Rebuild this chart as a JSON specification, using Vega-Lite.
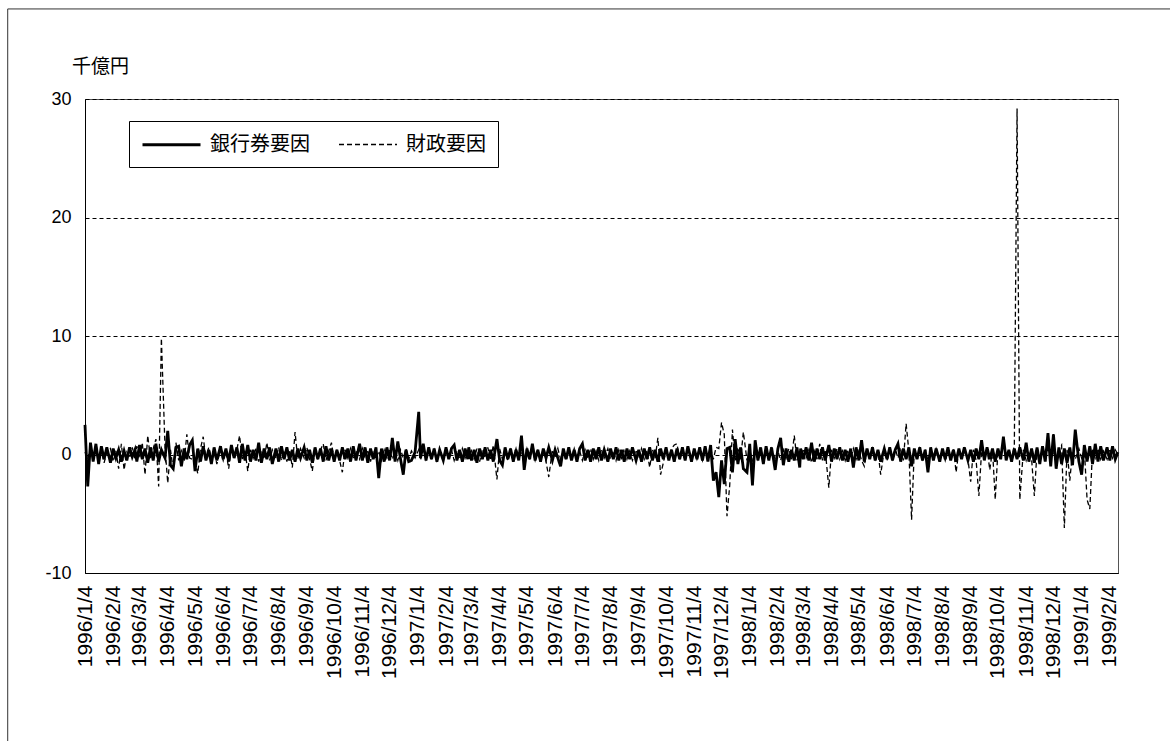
{
"width": 1033, "height": 474,
"autosize": {"type": "none"},
"padding": {"left": 85, "top": 99, "right": 52, "bottom": 168},
"background": "white",
"config": {
 "view": {"stroke": "#555", "strokeWidth": 1},
 "font": "Liberation Sans",
 "legend": {"orient": "none", "legendX": 44, "legendY": 22, "direction": "horizontal", "strokeColor": "black", "fillColor": "white", "padding": 12, "symbolType": "M-1,0H4.8", "symbolSize": 400, "symbolStrokeColor": "black", "labelFont": "Noto Sans CJK JP", "labelFontSize": 20, "labelColor": "black", "labelOffset": 46, "columnPadding": 26, "labelLimit": 0}
},
"data": {"values": [
{"d":"1996/1/4","a":2.5,"b":0.2},{"d":"1996/1/7","a":-2.7,"b":-0.4},{"d":"1996/1/10","a":1.0,"b":0.6},{"d":"1996/1/13","a":-0.6,"b":-0.3},{"d":"1996/1/16","a":0.9,"b":0.4},{"d":"1996/1/19","a":-0.8,"b":-0.5},{"d":"1996/1/22","a":0.7,"b":0.3},{"d":"1996/1/25","a":-0.4,"b":-0.7},{"d":"1996/1/28","a":0.6,"b":0.2},
{"d":"1996/2/1","a":-0.7,"b":0.5},{"d":"1996/2/4","a":0.5,"b":-0.6},{"d":"1996/2/7","a":-0.3,"b":0.3},{"d":"1996/2/10","a":0.4,"b":-1.2},{"d":"1996/2/13","a":-0.6,"b":0.9},{"d":"1996/2/16","a":0.3,"b":-1.3},{"d":"1996/2/19","a":-0.5,"b":0.2},{"d":"1996/2/22","a":0.6,"b":-0.3},{"d":"1996/2/25","a":-0.2,"b":0.6},{"d":"1996/2/28","a":0.4,"b":-0.4},
{"d":"1996/3/1","a":-0.6,"b":0.7},{"d":"1996/3/4","a":0.8,"b":-0.3},{"d":"1996/3/7","a":-0.4,"b":1.0},{"d":"1996/3/10","a":0.5,"b":-1.7},{"d":"1996/3/13","a":-0.7,"b":1.6},{"d":"1996/3/16","a":0.6,"b":-0.4},{"d":"1996/3/19","a":-0.5,"b":0.5},{"d":"1996/3/22","a":0.9,"b":1.3},{"d":"1996/3/25","a":-0.6,"b":-2.7},{"d":"1996/3/28","a":0.4,"b":9.8},
{"d":"1996/4/1","a":-0.3,"b":0.6},{"d":"1996/4/4","a":2.0,"b":-2.4},{"d":"1996/4/7","a":-0.9,"b":0.4},{"d":"1996/4/10","a":-1.2,"b":-1.3},{"d":"1996/4/13","a":0.6,"b":1.0},{"d":"1996/4/16","a":0.7,"b":-0.5},{"d":"1996/4/19","a":-1.0,"b":0.3},{"d":"1996/4/22","a":0.5,"b":-0.6},{"d":"1996/4/25","a":-0.4,"b":1.7},{"d":"1996/4/28","a":0.8,"b":-0.3},
{"d":"1996/5/1","a":1.2,"b":-0.4},{"d":"1996/5/4","a":-1.4,"b":-0.6},{"d":"1996/5/7","a":0.5,"b":-1.6},{"d":"1996/5/10","a":-0.6,"b":0.5},{"d":"1996/5/13","a":0.7,"b":1.5},{"d":"1996/5/16","a":-0.5,"b":-0.4},{"d":"1996/5/19","a":0.4,"b":0.6},{"d":"1996/5/22","a":-0.8,"b":-0.3},{"d":"1996/5/25","a":0.6,"b":0.2},{"d":"1996/5/28","a":-0.5,"b":-0.8},
{"d":"1996/6/1","a":0.7,"b":0.4},{"d":"1996/6/4","a":-0.4,"b":-0.5},{"d":"1996/6/7","a":0.5,"b":0.3},{"d":"1996/6/10","a":-0.6,"b":-1.2},{"d":"1996/6/13","a":0.8,"b":0.5},{"d":"1996/6/16","a":-0.3,"b":-0.3},{"d":"1996/6/19","a":0.6,"b":0.4},{"d":"1996/6/22","a":-0.7,"b":1.6},{"d":"1996/6/25","a":0.9,"b":-0.5},{"d":"1996/6/28","a":-0.5,"b":0.3},
{"d":"1996/7/1","a":0.8,"b":-1.4},{"d":"1996/7/4","a":-0.6,"b":0.4},{"d":"1996/7/7","a":0.4,"b":-0.3},{"d":"1996/7/10","a":-0.5,"b":0.5},{"d":"1996/7/13","a":1.0,"b":-0.6},{"d":"1996/7/16","a":-0.7,"b":0.3},{"d":"1996/7/19","a":0.5,"b":-0.4},{"d":"1996/7/22","a":-0.4,"b":1.0},{"d":"1996/7/25","a":0.6,"b":-0.5},{"d":"1996/7/28","a":-0.8,"b":0.4},
{"d":"1996/8/1","a":0.5,"b":-0.3},{"d":"1996/8/4","a":-0.6,"b":0.6},{"d":"1996/8/7","a":0.7,"b":-0.5},{"d":"1996/8/10","a":-0.4,"b":0.3},{"d":"1996/8/13","a":0.6,"b":-0.6},{"d":"1996/8/16","a":-0.5,"b":0.4},{"d":"1996/8/19","a":0.4,"b":-1.1},{"d":"1996/8/22","a":-0.6,"b":1.9},{"d":"1996/8/25","a":0.5,"b":-0.4},{"d":"1996/8/28","a":-0.3,"b":0.5},
{"d":"1996/9/1","a":0.6,"b":-0.3},{"d":"1996/9/4","a":-0.5,"b":0.6},{"d":"1996/9/7","a":0.4,"b":-0.4},{"d":"1996/9/10","a":-0.7,"b":-1.4},{"d":"1996/9/13","a":0.6,"b":0.5},{"d":"1996/9/16","a":-0.4,"b":-0.3},{"d":"1996/9/19","a":0.5,"b":0.4},{"d":"1996/9/22","a":-0.6,"b":0.9},{"d":"1996/9/25","a":0.7,"b":-0.5},{"d":"1996/9/28","a":-0.5,"b":0.3},
{"d":"1996/10/1","a":0.5,"b":1.0},{"d":"1996/10/4","a":-0.6,"b":-0.4},{"d":"1996/10/7","a":0.4,"b":0.3},{"d":"1996/10/10","a":-0.5,"b":-0.5},{"d":"1996/10/13","a":0.6,"b":-1.5},{"d":"1996/10/16","a":-0.4,"b":0.4},{"d":"1996/10/19","a":0.5,"b":-0.3},{"d":"1996/10/22","a":-0.6,"b":0.5},{"d":"1996/10/25","a":0.7,"b":-0.4},{"d":"1996/10/28","a":-0.5,"b":0.3},
{"d":"1996/11/1","a":0.9,"b":-0.4},{"d":"1996/11/4","a":-0.5,"b":0.5},{"d":"1996/11/7","a":0.6,"b":-0.3},{"d":"1996/11/10","a":-0.7,"b":0.4},{"d":"1996/11/13","a":0.5,"b":-0.6},{"d":"1996/11/16","a":-0.4,"b":0.3},{"d":"1996/11/19","a":0.6,"b":-0.4},{"d":"1996/11/22","a":-2.0,"b":0.3},{"d":"1996/11/25","a":0.5,"b":-0.5},{"d":"1996/11/28","a":-0.6,"b":0.4},
{"d":"1996/12/1","a":0.6,"b":-0.3},{"d":"1996/12/4","a":-0.5,"b":0.4},{"d":"1996/12/7","a":1.4,"b":-0.4},{"d":"1996/12/10","a":-0.6,"b":0.3},{"d":"1996/12/13","a":1.1,"b":-0.5},{"d":"1996/12/16","a":-0.4,"b":0.4},{"d":"1996/12/19","a":-1.7,"b":-0.3},{"d":"1996/12/22","a":0.4,"b":0.5},{"d":"1996/12/25","a":-0.6,"b":-0.4},{"d":"1996/12/28","a":-0.5,"b":0.3},
{"d":"1997/1/1","a":0.2,"b":-0.3},{"d":"1997/1/5","a":3.6,"b":0.4},{"d":"1997/1/7","a":-0.3,"b":-0.5},{"d":"1997/1/10","a":0.9,"b":0.6},{"d":"1997/1/13","a":-0.5,"b":-0.4},{"d":"1997/1/16","a":0.6,"b":0.3},{"d":"1997/1/19","a":-0.4,"b":-0.3},{"d":"1997/1/22","a":0.5,"b":0.4},{"d":"1997/1/25","a":-0.6,"b":-0.5},{"d":"1997/1/28","a":0.4,"b":0.3},
{"d":"1997/2/1","a":-0.5,"b":-0.4},{"d":"1997/2/4","a":0.6,"b":0.3},{"d":"1997/2/7","a":-0.4,"b":-0.3},{"d":"1997/2/10","a":0.5,"b":0.4},{"d":"1997/2/13","a":0.8,"b":-0.5},{"d":"1997/2/16","a":-0.5,"b":0.3},{"d":"1997/2/19","a":0.4,"b":-0.4},{"d":"1997/2/22","a":-0.6,"b":0.5},{"d":"1997/2/25","a":0.5,"b":-0.3},{"d":"1997/2/28","a":-0.4,"b":0.4},
{"d":"1997/3/1","a":0.6,"b":-0.5},{"d":"1997/3/4","a":-0.5,"b":0.3},{"d":"1997/3/7","a":0.4,"b":-0.4},{"d":"1997/3/10","a":-0.7,"b":0.5},{"d":"1997/3/13","a":0.5,"b":-0.6},{"d":"1997/3/16","a":-0.4,"b":0.4},{"d":"1997/3/19","a":0.6,"b":-0.3},{"d":"1997/3/22","a":-0.5,"b":0.6},{"d":"1997/3/25","a":0.4,"b":-0.5},{"d":"1997/3/28","a":-0.6,"b":0.8},
{"d":"1997/4/1","a":1.3,"b":-2.1},{"d":"1997/4/4","a":-0.5,"b":0.5},{"d":"1997/4/7","a":-0.9,"b":-0.4},{"d":"1997/4/10","a":0.6,"b":0.3},{"d":"1997/4/13","a":-0.4,"b":-0.5},{"d":"1997/4/16","a":0.5,"b":0.4},{"d":"1997/4/19","a":-0.6,"b":-0.3},{"d":"1997/4/22","a":0.4,"b":0.5},{"d":"1997/4/25","a":-0.5,"b":-0.4},{"d":"1997/4/28","a":1.6,"b":0.3},
{"d":"1997/5/1","a":-1.3,"b":-0.4},{"d":"1997/5/4","a":0.5,"b":0.5},{"d":"1997/5/7","a":-0.4,"b":-0.3},{"d":"1997/5/10","a":0.9,"b":0.4},{"d":"1997/5/13","a":-0.5,"b":-0.5},{"d":"1997/5/16","a":0.4,"b":0.3},{"d":"1997/5/19","a":-0.6,"b":-0.4},{"d":"1997/5/22","a":0.5,"b":0.5},{"d":"1997/5/25","a":-0.3,"b":-0.6},{"d":"1997/5/28","a":0.6,"b":-1.9},
{"d":"1997/6/1","a":-0.5,"b":0.4},{"d":"1997/6/4","a":0.4,"b":-0.3},{"d":"1997/6/7","a":-0.3,"b":0.5},{"d":"1997/6/10","a":-1.0,"b":-0.4},{"d":"1997/6/13","a":0.5,"b":0.3},{"d":"1997/6/16","a":-0.4,"b":-0.5},{"d":"1997/6/19","a":0.6,"b":0.4},{"d":"1997/6/22","a":-0.5,"b":-0.3},{"d":"1997/6/25","a":0.4,"b":0.5},{"d":"1997/6/28","a":-0.6,"b":-0.4},
{"d":"1997/7/1","a":0.5,"b":0.3},{"d":"1997/7/4","a":0.9,"b":-0.5},{"d":"1997/7/7","a":-0.5,"b":0.4},{"d":"1997/7/10","a":0.4,"b":-0.3},{"d":"1997/7/13","a":-0.6,"b":0.5},{"d":"1997/7/16","a":0.5,"b":-0.4},{"d":"1997/7/19","a":-0.4,"b":0.3},{"d":"1997/7/22","a":0.6,"b":-0.5},{"d":"1997/7/25","a":-0.5,"b":0.4},{"d":"1997/7/28","a":0.4,"b":-0.3},
{"d":"1997/8/1","a":-0.6,"b":0.5},{"d":"1997/8/4","a":0.5,"b":-0.4},{"d":"1997/8/7","a":-0.4,"b":0.3},{"d":"1997/8/10","a":0.6,"b":-0.5},{"d":"1997/8/13","a":-0.5,"b":0.4},{"d":"1997/8/16","a":0.4,"b":-0.3},{"d":"1997/8/19","a":-0.6,"b":0.5},{"d":"1997/8/22","a":0.5,"b":-0.4},{"d":"1997/8/25","a":-0.4,"b":0.3},{"d":"1997/8/28","a":0.6,"b":-0.5},
{"d":"1997/9/1","a":-0.5,"b":0.4},{"d":"1997/9/4","a":0.4,"b":-0.3},{"d":"1997/9/7","a":-0.6,"b":0.5},{"d":"1997/9/10","a":0.5,"b":-0.4},{"d":"1997/9/13","a":-0.4,"b":0.3},{"d":"1997/9/16","a":0.6,"b":-1.1},{"d":"1997/9/19","a":-0.5,"b":0.4},{"d":"1997/9/22","a":0.4,"b":-0.3},{"d":"1997/9/25","a":-0.6,"b":1.4},{"d":"1997/9/28","a":0.5,"b":-1.7},
{"d":"1997/10/1","a":-0.4,"b":-0.7},{"d":"1997/10/4","a":0.6,"b":0.4},{"d":"1997/10/7","a":-0.5,"b":-0.3},{"d":"1997/10/10","a":0.4,"b":0.5},{"d":"1997/10/13","a":-0.6,"b":0.8},{"d":"1997/10/16","a":0.5,"b":0.9},{"d":"1997/10/19","a":-0.4,"b":-0.4},{"d":"1997/10/22","a":0.6,"b":0.3},{"d":"1997/10/25","a":-0.5,"b":-0.5},{"d":"1997/10/28","a":0.7,"b":0.4},
{"d":"1997/11/1","a":-0.6,"b":-0.3},{"d":"1997/11/4","a":0.5,"b":0.5},{"d":"1997/11/7","a":-0.4,"b":-0.4},{"d":"1997/11/10","a":0.6,"b":0.3},{"d":"1997/11/13","a":-0.5,"b":-0.5},{"d":"1997/11/16","a":0.7,"b":0.4},{"d":"1997/11/19","a":-0.6,"b":-0.3},{"d":"1997/11/22","a":0.8,"b":0.5},{"d":"1997/11/25","a":-2.2,"b":-0.4},{"d":"1997/11/28","a":-1.5,"b":0.6},
{"d":"1997/12/1","a":-3.6,"b":0.5},{"d":"1997/12/4","a":-0.5,"b":2.7},{"d":"1997/12/7","a":-2.5,"b":1.7},{"d":"1997/12/10","a":0.5,"b":-5.2},{"d":"1997/12/13","a":0.6,"b":-2.6},{"d":"1997/12/16","a":-1.5,"b":2.1},{"d":"1997/12/19","a":1.3,"b":-0.5},{"d":"1997/12/22","a":-0.8,"b":0.6},{"d":"1997/12/25","a":0.6,"b":-0.4},{"d":"1997/12/28","a":-1.2,"b":1.9},
{"d":"1998/1/1","a":-1.5,"b":-0.5},{"d":"1998/1/4","a":0.9,"b":0.4},{"d":"1998/1/7","a":-2.6,"b":-0.6},{"d":"1998/1/10","a":1.2,"b":0.5},{"d":"1998/1/13","a":-0.5,"b":-0.4},{"d":"1998/1/16","a":0.6,"b":0.3},{"d":"1998/1/19","a":-0.8,"b":-0.5},{"d":"1998/1/22","a":0.7,"b":0.4},{"d":"1998/1/25","a":-0.5,"b":-0.3},{"d":"1998/1/28","a":0.6,"b":0.5},
{"d":"1998/2/1","a":-1.3,"b":-0.4},{"d":"1998/2/4","a":0.5,"b":0.3},{"d":"1998/2/7","a":1.4,"b":-0.5},{"d":"1998/2/10","a":-0.9,"b":0.4},{"d":"1998/2/13","a":0.5,"b":-0.3},{"d":"1998/2/16","a":-0.6,"b":0.5},{"d":"1998/2/19","a":0.4,"b":-0.4},{"d":"1998/2/22","a":-0.5,"b":1.6},{"d":"1998/2/25","a":0.6,"b":-0.5},{"d":"1998/2/28","a":-1.1,"b":0.3},
{"d":"1998/3/1","a":0.5,"b":-0.4},{"d":"1998/3/4","a":-0.4,"b":0.5},{"d":"1998/3/7","a":0.6,"b":-0.3},{"d":"1998/3/10","a":-0.5,"b":0.4},{"d":"1998/3/13","a":1.0,"b":-0.7},{"d":"1998/3/16","a":-0.6,"b":0.3},{"d":"1998/3/19","a":0.5,"b":-0.4},{"d":"1998/3/22","a":-0.4,"b":0.9},{"d":"1998/3/25","a":0.6,"b":-0.5},{"d":"1998/3/28","a":-0.5,"b":0.4},
{"d":"1998/4/1","a":0.8,"b":-2.8},{"d":"1998/4/4","a":-0.6,"b":0.4},{"d":"1998/4/7","a":0.5,"b":-0.3},{"d":"1998/4/10","a":-0.4,"b":0.5},{"d":"1998/4/13","a":0.6,"b":-0.4},{"d":"1998/4/16","a":-0.5,"b":0.3},{"d":"1998/4/19","a":0.4,"b":-0.5},{"d":"1998/4/22","a":-0.6,"b":0.4},{"d":"1998/4/25","a":0.5,"b":-0.3},{"d":"1998/4/28","a":-1.1,"b":0.5},
{"d":"1998/5/1","a":0.6,"b":-0.4},{"d":"1998/5/4","a":-0.5,"b":0.3},{"d":"1998/5/7","a":1.2,"b":-0.5},{"d":"1998/5/10","a":-0.6,"b":-1.0},{"d":"1998/5/13","a":0.5,"b":0.4},{"d":"1998/5/16","a":-0.4,"b":-0.3},{"d":"1998/5/19","a":0.6,"b":0.5},{"d":"1998/5/22","a":-0.5,"b":-0.4},{"d":"1998/5/25","a":0.4,"b":0.3},{"d":"1998/5/28","a":-0.6,"b":-1.7},
{"d":"1998/6/1","a":0.5,"b":0.4},{"d":"1998/6/4","a":-0.4,"b":-0.5},{"d":"1998/6/7","a":0.6,"b":0.3},{"d":"1998/6/10","a":-0.5,"b":-0.4},{"d":"1998/6/13","a":0.4,"b":0.5},{"d":"1998/6/16","a":0.9,"b":-0.3},{"d":"1998/6/19","a":-0.6,"b":0.4},{"d":"1998/6/22","a":0.5,"b":-0.5},{"d":"1998/6/25","a":-0.4,"b":2.6},{"d":"1998/6/28","a":0.6,"b":0.3},
{"d":"1998/7/1","a":-1.0,"b":-5.5},{"d":"1998/7/4","a":0.5,"b":0.4},{"d":"1998/7/7","a":-0.4,"b":-0.3},{"d":"1998/7/10","a":0.6,"b":0.5},{"d":"1998/7/13","a":-0.5,"b":-0.4},{"d":"1998/7/16","a":0.4,"b":0.3},{"d":"1998/7/19","a":-1.5,"b":-0.5},{"d":"1998/7/22","a":0.6,"b":0.4},{"d":"1998/7/25","a":-0.5,"b":-0.3},{"d":"1998/7/28","a":0.5,"b":0.5},
{"d":"1998/8/1","a":-0.6,"b":-0.4},{"d":"1998/8/4","a":0.5,"b":0.3},{"d":"1998/8/7","a":-0.4,"b":-0.5},{"d":"1998/8/10","a":0.6,"b":0.4},{"d":"1998/8/13","a":-0.5,"b":-0.3},{"d":"1998/8/16","a":0.4,"b":0.5},{"d":"1998/8/19","a":-0.6,"b":-1.5},{"d":"1998/8/22","a":0.5,"b":0.4},{"d":"1998/8/25","a":-0.4,"b":-0.3},{"d":"1998/8/28","a":0.6,"b":0.5},
{"d":"1998/9/1","a":-0.5,"b":-0.4},{"d":"1998/9/4","a":0.4,"b":-2.3},{"d":"1998/9/7","a":-0.6,"b":0.4},{"d":"1998/9/10","a":0.5,"b":-0.5},{"d":"1998/9/13","a":-0.4,"b":-3.5},{"d":"1998/9/16","a":1.2,"b":0.3},{"d":"1998/9/19","a":-0.5,"b":-0.4},{"d":"1998/9/22","a":0.6,"b":0.5},{"d":"1998/9/25","a":-0.4,"b":-1.3},{"d":"1998/9/28","a":0.5,"b":0.4},
{"d":"1998/10/1","a":-0.6,"b":-3.8},{"d":"1998/10/4","a":0.5,"b":0.4},{"d":"1998/10/7","a":-0.4,"b":-0.3},{"d":"1998/10/10","a":1.5,"b":1.2},{"d":"1998/10/13","a":-0.5,"b":-0.4},{"d":"1998/10/16","a":0.4,"b":0.3},{"d":"1998/10/19","a":-0.6,"b":-0.5},{"d":"1998/10/22","a":0.5,"b":0.8},{"d":"1998/10/25","a":-0.4,"b":29.2},{"d":"1998/10/28","a":0.6,"b":-3.8},
{"d":"1998/11/1","a":-0.5,"b":0.4},{"d":"1998/11/4","a":1.0,"b":-0.5},{"d":"1998/11/7","a":-0.6,"b":0.3},{"d":"1998/11/10","a":0.5,"b":-0.4},{"d":"1998/11/13","a":-0.7,"b":-3.5},{"d":"1998/11/16","a":0.6,"b":0.4},{"d":"1998/11/19","a":-0.8,"b":-0.5},{"d":"1998/11/22","a":0.7,"b":0.3},{"d":"1998/11/25","a":-0.6,"b":-0.4},{"d":"1998/11/28","a":1.8,"b":0.5},
{"d":"1998/12/1","a":-1.0,"b":-0.4},{"d":"1998/12/4","a":1.7,"b":0.3},{"d":"1998/12/7","a":-1.2,"b":-0.5},{"d":"1998/12/10","a":0.6,"b":0.4},{"d":"1998/12/13","a":-0.8,"b":0.8},{"d":"1998/12/16","a":0.5,"b":-6.2},{"d":"1998/12/19","a":-0.7,"b":0.4},{"d":"1998/12/22","a":0.6,"b":-2.2},{"d":"1998/12/25","a":-0.9,"b":0.3},{"d":"1998/12/28","a":2.1,"b":-0.4},
{"d":"1999/1/1","a":-0.6,"b":0.5},{"d":"1999/1/4","a":-1.7,"b":-0.3},{"d":"1999/1/7","a":0.8,"b":0.4},{"d":"1999/1/10","a":-0.6,"b":-3.8},{"d":"1999/1/13","a":0.7,"b":-4.6},{"d":"1999/1/16","a":-0.8,"b":0.4},{"d":"1999/1/19","a":0.9,"b":-0.3},{"d":"1999/1/22","a":-0.6,"b":0.5},{"d":"1999/1/25","a":0.7,"b":-0.4},{"d":"1999/1/28","a":-0.5,"b":0.3},
{"d":"1999/2/1","a":0.6,"b":-0.4},{"d":"1999/2/4","a":-0.5,"b":0.5},{"d":"1999/2/7","a":0.7,"b":-0.3},{"d":"1999/2/10","a":-0.4,"b":0.4},{"d":"1999/2/13","a":0.2,"b":0.0}
]},
"layer": [
 {
  "transform": [{"fold": ["a", "b"], "as": ["s", "v"]}],
  "mark": {"type": "line", "color": "black"},
  "encoding": {
   "x": {"field": "d", "type": "temporal",
    "scale": {"domain": [{"year": 1996, "month": 1, "date": 4}, {"year": 1999, "month": 2, "date": 13}]},
    "axis": {"title": null, "format": "%Y/%-m/%-d", "labelAngle": 270, "labelFontSize": 21, "labelColor": "black", "labelPadding": 12, "ticks": false, "grid": false, "domainColor": "black", "labelOverlap": false, "labelFlush": false, "tickCount": 200,
     "values": [{"year":1996,"month":1,"date":4},{"year":1996,"month":2,"date":4},{"year":1996,"month":3,"date":4},{"year":1996,"month":4,"date":4},{"year":1996,"month":5,"date":4},{"year":1996,"month":6,"date":4},{"year":1996,"month":7,"date":4},{"year":1996,"month":8,"date":4},{"year":1996,"month":9,"date":4},{"year":1996,"month":10,"date":4},{"year":1996,"month":11,"date":4},{"year":1996,"month":12,"date":4},{"year":1997,"month":1,"date":4},{"year":1997,"month":2,"date":4},{"year":1997,"month":3,"date":4},{"year":1997,"month":4,"date":4},{"year":1997,"month":5,"date":4},{"year":1997,"month":6,"date":4},{"year":1997,"month":7,"date":4},{"year":1997,"month":8,"date":4},{"year":1997,"month":9,"date":4},{"year":1997,"month":10,"date":4},{"year":1997,"month":11,"date":4},{"year":1997,"month":12,"date":4},{"year":1998,"month":1,"date":4},{"year":1998,"month":2,"date":4},{"year":1998,"month":3,"date":4},{"year":1998,"month":4,"date":4},{"year":1998,"month":5,"date":4},{"year":1998,"month":6,"date":4},{"year":1998,"month":7,"date":4},{"year":1998,"month":8,"date":4},{"year":1998,"month":9,"date":4},{"year":1998,"month":10,"date":4},{"year":1998,"month":11,"date":4},{"year":1998,"month":12,"date":4},{"year":1999,"month":1,"date":4},{"year":1999,"month":2,"date":4}]}},
   "y": {"field": "v", "type": "quantitative",
    "scale": {"domain": [-10, 30], "nice": false},
    "axis": {"values": [-10, 0, 10, 20, 30], "grid": true, "gridColor": "black", "gridDash": [4, 3], "gridWidth": 1, "domainColor": "black", "ticks": false, "labelFontSize": 18, "labelColor": "black", "labelPadding": 14,
     "labelExpr": "datum.value < 0 ? '-' + abs(datum.value) : '' + datum.value",
     "title": "千億円", "titleAngle": 0, "titleX": 15, "titleY": -33, "titleAlign": "center", "titleBaseline": "middle", "titleFont": "Noto Sans CJK JP", "titleFontSize": 19, "titleFontWeight": "normal", "titleColor": "black"}},
   "strokeDash": {"field": "s", "type": "nominal", "scale": {"domain": ["a", "b"], "range": [[1, 0], [5, 3]]},
    "legend": {"title": null, "labelExpr": "datum.label == 'a' ? '銀行券要因' : '財政要因'"}},
   "strokeWidth": {"field": "s", "type": "nominal", "scale": {"domain": ["a", "b"], "range": [2.8, 1.3]},
    "legend": {"title": null, "labelExpr": "datum.label == 'a' ? '銀行券要因' : '財政要因'"}}
  }
 },
 {
  "data": {"values": [{}]},
  "mark": {"type": "rule", "color": "#333", "strokeWidth": 1},
  "encoding": {
   "x": {"datum": {"year": 1995, "month": 10, "date": 11}, "type": "temporal"},
   "y": {"datum": 37.6, "type": "quantitative"},
   "y2": {"datum": -26}
  }
 },
 {
  "data": {"values": [{}]},
  "mark": {"type": "rule", "color": "#333", "strokeWidth": 1},
  "encoding": {
   "x": {"datum": {"year": 1995, "month": 10, "date": 11}, "type": "temporal"},
   "x2": {"datum": {"year": 1999, "month": 6, "date": 1}},
   "y": {"datum": 37.6, "type": "quantitative"}
  }
 }
]
}
